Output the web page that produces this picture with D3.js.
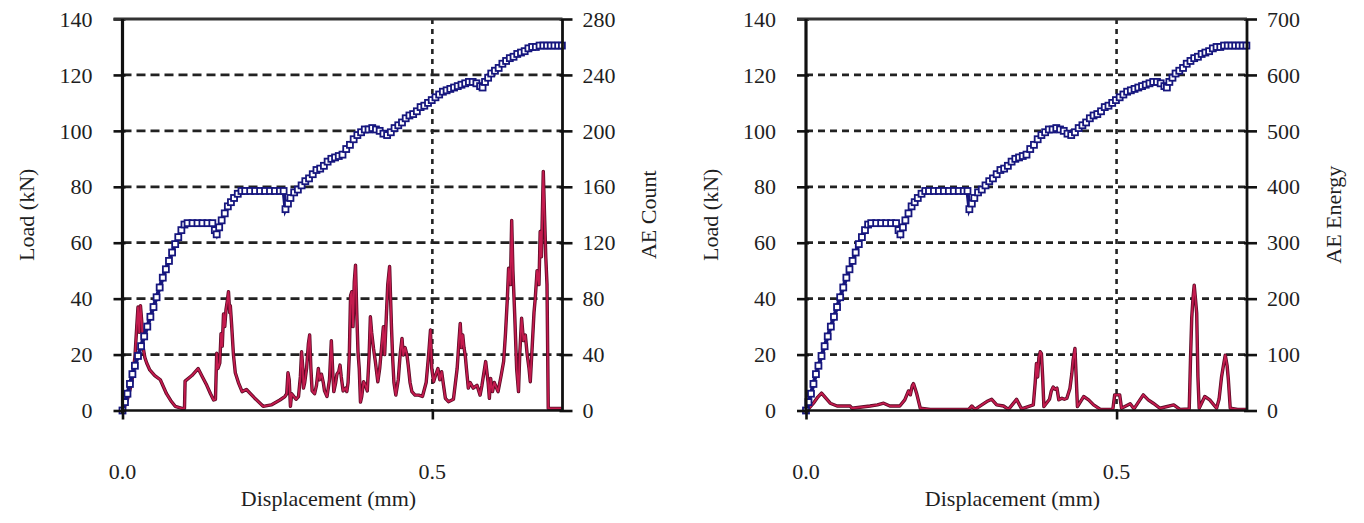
<!DOCTYPE html>
<html>
<head>
<meta charset="utf-8">
<script src="https://cdn.jsdelivr.net/npm/d3@7"></script>
<style>
  html, body { margin: 0; padding: 0; background: #fff; }
  svg { display: block; }
  svg text { font-family: "Liberation Serif", "Times New Roman", "DejaVu Serif", serif; fill: #1e1e1e; }
</style>
</head>
<body>
<svg id="chart" width="1364" height="523" font-family="Liberation Serif, serif"></svg>
<script>
// ---------------- DATA ----------------
// Load vs displacement (same test for both panels)
const loadDisp = [0.000,0.004,0.008,0.012,0.016,0.020,0.025,0.030,0.035,0.040,0.045,0.050,0.055,0.060,0.065,0.070,0.075,0.080,0.085,0.090,0.095,0.100,0.105,
  0.113,0.121,0.129,0.137,0.145,0.149,0.152,0.156,0.160,0.165,0.170,0.175,0.180,0.186,0.192,0.198,0.206,0.214,0.222,0.230,0.238,0.246,0.254,0.260,
  0.263,0.267,0.271,0.277,0.283,0.289,0.295,0.301,0.307,0.313,0.319,0.325,0.331,0.337,0.343,0.349,0.355,0.361,0.367,0.373,0.379,0.385,0.391,0.397,
  0.403,0.409,0.415,0.421,0.427,0.433,0.439,0.445,0.451,0.457,0.463,0.469,0.475,0.481,0.487,0.493,0.499,0.505,0.511,0.517,0.523,0.529,0.535,0.541,
  0.547,0.553,0.559,0.565,0.571,0.577,0.581,0.585,0.590,0.595,0.601,0.607,0.613,0.619,0.625,0.631,0.637,0.643,0.649,0.655,0.661,0.667,0.673,0.679,
  0.685,0.691,0.697,0.703,0.709];
const loadKN = [0,3,6,9.5,13,16,19.5,23,26.5,30,33.5,37,40.5,44,47.5,50.5,53.5,56.5,59.5,62,64.5,66.5,67,
  67,67,67,67,67,64.5,63,65.5,68,70.5,73,74.5,76,77.5,78.5,78.5,78.5,78.5,78.5,78.5,78.5,78.5,78.5,78.5,
  72,74,76,78,79,80.5,82,83,84.5,86,86.5,87.5,89,90,90.5,91,91.5,93.5,95,97,98.5,99.5,100.5,100.5,
  101,100.5,100,99,98.5,99.5,101,102,103,104.5,105.5,106,107,108.5,109,110,111,112,113,114,114.5,115,115.5,116,
  116.5,117,117.5,117.5,117,116,115.5,117.5,119,120.5,121.5,122.5,124,125,126,126.5,127.5,128,128.5,129.5,130,130,130.5,130.5,
  130.5,130.5,130.5,130.5,130.5];

// AE count (left panel)
const countDisp = [0.001,0.008,0.015,0.020,0.023,0.025,0.027,0.029,0.031,0.033,0.036,0.039,0.044,0.052,0.061,0.066,0.071,0.078,0.085,0.096,
  0.100,0.101,0.112,0.122,0.129,0.136,0.142,0.147,0.150,0.152,0.154,0.157,0.159,0.161,0.163,0.165,0.167,0.169,0.171,0.173,
  0.174,0.176,0.179,0.182,0.187,0.193,0.200,0.213,0.227,0.240,0.254,0.262,0.265,0.267,0.269,0.271,0.273,0.280,0.284,0.287,
  0.289,0.291,0.292,0.294,0.297,0.300,0.302,0.304,0.306,0.310,0.313,0.316,0.318,0.321,0.324,0.326,0.330,0.334,0.337,0.339,
  0.341,0.344,0.346,0.349,0.351,0.353,0.356,0.360,0.362,0.364,0.366,0.368,0.370,0.372,0.374,0.376,0.378,0.380,0.382,0.384,
  0.386,0.389,0.392,0.395,0.398,0.400,0.402,0.405,0.408,0.412,0.415,0.418,0.421,0.423,0.426,0.428,0.431,0.434,0.436,0.438,
  0.441,0.445,0.448,0.451,0.453,0.456,0.459,0.461,0.464,0.467,0.472,0.478,0.484,0.490,0.494,0.497,0.499,0.502,0.505,0.509,
  0.512,0.515,0.518,0.521,0.526,0.534,0.540,0.543,0.545,0.547,0.549,0.551,0.553,0.555,0.558,0.561,0.566,0.572,0.577,0.580,
  0.586,0.590,0.592,0.594,0.597,0.600,0.606,0.611,0.615,0.618,0.621,0.623,0.626,0.628,0.630,0.633,0.636,0.639,0.641,0.644,
  0.647,0.650,0.653,0.656,0.658,0.661,0.664,0.666,0.669,0.672,0.674,0.676,0.679,0.681,0.683,0.685,0.687,0.700,0.710];
const aeCount = [0,8,20,38,60,74,56,75,64,46,38,34,29,25,22,17,12,7,3,1.5,
  1.5,21,25,30,24,18,12,7.5,8,41,30,34,55,46,69,60,72,78,85,70,
  75,62,40,27,20,13.5,15,9,3,4,7.5,10,12,27,22,3,12,8,10,24,
  42,30,16,20,30,48,54,30,14,12,18,30,22,26,20,14,10,22,50,30,
  13.5,20,26,28,32.5,24,14,16,13.5,20,40,82,85,60,92,104,70,42,30,6,
  10,20.6,18,14,40,67,56,44.5,35,20.6,30,45,60,40,70,90,103,60,37,20,
  11,22,40,51.6,39.7,45,39.7,32.5,20,13.5,11,11,10,20,40,57.6,30,20.6,25,30,
  22,27.8,18,8.7,6.3,8,30,50,62.3,45,54,45,39.7,30,16,20,16,18,11,18,
  35,20,8.7,23,13.5,20,13.5,25,35,55,80,101.7,90,136,100,67,30,13.5,40,66,
  50,54,40,30,20.6,45,70,80,100,90,128,110,171,140,110,90,1.5,1.5,1.5];

// AE energy (right panel)
const energyDisp = [0.000,0.005,0.012,0.019,0.025,0.032,0.039,0.050,0.071,0.074,0.103,0.115,0.125,0.135,0.151,0.159,0.165,0.168,0.171,0.173,
  0.176,0.178,0.184,0.200,0.240,0.262,0.267,0.272,0.291,0.299,0.307,0.318,0.326,0.339,0.347,0.366,0.369,0.371,0.373,0.375,
  0.377,0.379,0.381,0.383,0.392,0.395,0.398,0.401,0.404,0.407,0.412,0.416,0.420,0.425,0.428,0.430,0.433,0.435,0.437,0.447,
  0.455,0.463,0.474,0.494,0.497,0.505,0.508,0.522,0.528,0.543,0.551,0.559,0.570,0.592,0.602,0.617,0.619,0.621,0.623,0.625,
  0.627,0.629,0.631,0.633,0.642,0.650,0.661,0.665,0.669,0.672,0.675,0.678,0.680,0.683,0.695,0.710];
const aeEnergy = [0,4,13,24,31,22,13,8,8,4,8,10,13,8,8,19,35,28,44,48,
  38,31,4,2,2,2,8,2,16,20,10,8,2,20,3,10,50,84,60,95,
  105,102,60,7,20,35,42,38,40,19,22,20,22,40,66,90,111,60,7,25,
  19,10,2,2,28,28,4,12,3,28,19,13,4,10,2,3,90,165,200,224,
  200,174,60,4,25,19,4,20,60,80,99,80,55,4,2,2];

const loadTicks = [0,20,40,60,80,100,120,140];
const countTicks = [0,40,80,120,160,200,240,280];
const energyTicks = [0,100,200,300,400,500,600,700];
const dispTicks = [0.0, 0.5];
const dispTickLabels = ["0.0","0.5"];

// ---------------- DRAW ----------------
const svg = d3.select("#chart");
const FS = 22;
const FONT = "Liberation Serif, Times New Roman, serif";

function txt(g) {
  return g.append("text").attr("font-family", FONT).attr("font-size", FS).attr("fill", "#1e1e1e");
}

function panel(cfg) {
  const x = d3.scaleLinear().domain([0, 0.71]).range([cfg.left, cfg.right]);
  const yL = d3.scaleLinear().domain([0, 140]).range([cfg.bottom, cfg.top]);
  const yR = d3.scaleLinear().domain([0, cfg.rMax]).range([cfg.bottom, cfg.top]);
  const g = svg.append("g");

  // horizontal dashed grid
  g.selectAll("line.hg").data(loadTicks.filter(t => t > 0 && t < 140)).enter().append("line")
    .attr("x1", cfg.left).attr("x2", cfg.right)
    .attr("y1", d => yL(d)).attr("y2", d => yL(d))
    .attr("stroke", "#222").attr("stroke-width", 2.8).attr("stroke-dasharray", cfg.dash);
  // vertical dashed grid at 0.5
  g.append("line")
    .attr("x1", x(0.5)).attr("x2", x(0.5)).attr("y1", cfg.top).attr("y2", cfg.bottom)
    .attr("stroke", "#222").attr("stroke-width", 2.6).attr("stroke-dasharray", "5,5");

  // AE series
  const aeLine = d3.line().x(d => x(d[0])).y(d => yR(d[1]));
  const aeData = cfg.aeX.map((d, i) => [d, cfg.aeY[i]]);
  g.append("path").datum(aeData).attr("d", aeLine)
    .attr("fill", "none").attr("stroke", "#5a0a25").attr("stroke-width", 3.4).attr("stroke-linejoin", "round");
  g.append("path").datum(aeData).attr("d", aeLine)
    .attr("fill", "none").attr("stroke", "#c41b4e").attr("stroke-width", 1.8).attr("stroke-linejoin", "round");

  // load series
  const ldData = loadDisp.map((d, i) => [d, loadKN[i]]);
  g.append("path").datum(ldData)
    .attr("d", d3.line().x(d => x(d[0])).y(d => yL(d[1])))
    .attr("fill", "none").attr("stroke", "#16167e").attr("stroke-width", 4);
  g.selectAll("rect.m").data(ldData).enter().append("rect")
    .attr("x", d => x(d[0]) - 3).attr("y", d => yL(d[1]) - 3)
    .attr("width", 6).attr("height", 6)
    .attr("fill", "#fff").attr("stroke", "#16167e").attr("stroke-width", 1.8);

  // frame
  const axisCol = "#111";
  const yAxisL = d3.axisLeft(yL).tickValues(loadTicks).tickSize(9).tickFormat("");
  const gl = g.append("g").attr("transform", `translate(${cfg.left},0)`).call(yAxisL);
  gl.select(".domain").remove();
  gl.selectAll(".tick line").attr("stroke", axisCol).attr("stroke-width", 2.6).attr("x2", -9).attr("x1", 3);

  const yAxisR = d3.axisRight(yR).tickValues(cfg.rTicks).tickSize(10).tickFormat("");
  const gr = g.append("g").attr("transform", `translate(${cfg.right},0)`).call(yAxisR);
  gr.select(".domain").remove();
  gr.selectAll(".tick line").attr("stroke", axisCol).attr("stroke-width", 2.6).attr("x1", -3);

  const xAxis = d3.axisBottom(x).tickValues(dispTicks).tickSize(9).tickFormat("");
  const gx = g.append("g").attr("transform", `translate(0,${cfg.bottom})`).call(xAxis);
  gx.select(".domain").remove();
  gx.selectAll(".tick line").attr("stroke", axisCol).attr("stroke-width", 2.6);

  g.append("line").attr("x1", cfg.left - 9).attr("x2", cfg.right).attr("y1", cfg.top).attr("y2", cfg.top)
    .attr("stroke", "#333").attr("stroke-width", 3.2);
  g.append("line").attr("x1", cfg.left).attr("x2", cfg.right).attr("y1", cfg.bottom).attr("y2", cfg.bottom)
    .attr("stroke", axisCol).attr("stroke-width", 2.6);
  g.append("line").attr("x1", cfg.left).attr("x2", cfg.left).attr("y1", cfg.top).attr("y2", cfg.bottom + 3)
    .attr("stroke", axisCol).attr("stroke-width", 3.2);
  g.append("line").attr("x1", cfg.right).attr("x2", cfg.right).attr("y1", cfg.top).attr("y2", cfg.bottom)
    .attr("stroke", axisCol).attr("stroke-width", 2.8);

  // tick labels
  loadTicks.forEach(d => {
    txt(g).attr("x", cfg.left - 30).attr("y", yL(d)).attr("dy", "0.35em")
      .attr("text-anchor", "end").text(d);
  });
  cfg.rTicks.forEach(d => {
    txt(g).attr("x", cfg.right + 20).attr("y", yR(d)).attr("dy", "0.35em")
      .attr("text-anchor", "start").text(d);
  });
  dispTicks.forEach((d, i) => {
    txt(g).attr("x", x(d)).attr("y", 471).attr("dy", "0.35em")
      .attr("text-anchor", "middle").text(dispTickLabels[i]);
  });

  // titles
  txt(g).attr("transform", `translate(${cfg.left - 96},${(cfg.top + cfg.bottom) / 2}) rotate(-90)`)
    .attr("dy", "0.35em").attr("text-anchor", "middle").text("Load (kN)");
  txt(g).attr("transform", `translate(${cfg.right + 86},${(cfg.top + cfg.bottom) / 2}) rotate(-90)`)
    .attr("dy", "0.35em").attr("text-anchor", "middle").text(cfg.rTitle);
  txt(g).attr("x", (cfg.left + cfg.right) / 2 - 14).attr("y", 498).attr("dy", "0.35em")
    .attr("text-anchor", "middle").text("Displacement (mm)");
}

panel({ left: 122.5, right: 562.5, top: 19, bottom: 410.5, rMax: 280, rTicks: countTicks,
        rTitle: "AE Count", aeX: countDisp, aeY: aeCount, dash: "9,5" });
panel({ left: 806, right: 1247, top: 19, bottom: 410.5, rMax: 700, rTicks: energyTicks,
        rTitle: "AE Energy", aeX: energyDisp, aeY: aeEnergy, dash: "7,5" });
</script>
</body>
</html>
